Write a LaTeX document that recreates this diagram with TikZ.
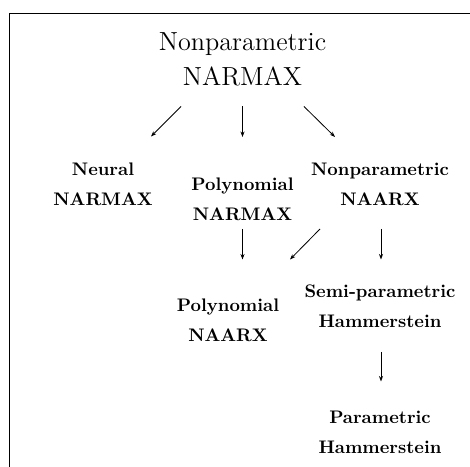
\documentclass[tikz,border=0pt]{standalone}
\usetikzlibrary{arrows.meta}
\begin{document}
\begin{tikzpicture}[x=0.55pt, y=-0.55pt,
    titlelbl/.style={inner sep=0pt, align=center, font={\fontsize{14.4}{19.3}\selectfont}},
    modellbl/.style={inner sep=0pt, align=center, font={\fontsize{10}{16.5}\bfseries\selectfont}},
    arr/.style={line width=0.45pt, -{Stealth[length=3pt,width=2.2pt]}}]
  \useasboundingbox (0,0) rectangle (470,467);
  % frame, cut off at right and bottom
  \draw[line width=0.7pt] (9.5,467) -- (9.5,13.3) -- (470,13.3);
  % models
  \node[titlelbl] (top) at (242.5,59) {Nonparametric\\NARMAX};
  \node[modellbl] (neural) at (103,184) {Neural\\NARMAX};
  \node[modellbl] (polyA) at (242.5,199) {Polynomial\\NARMAX};
  \node[modellbl] (nonpA) at (380,184.5) {Nonparametric\\NAARX};
  \node[modellbl] (polyB) at (228,320) {Polynomial\\NAARX};
  \node[modellbl] (semi) at (380,306) {Semi-parametric\\Hammerstein};
  \node[modellbl] (param) at (380,432) {Parametric\\Hammerstein};
  % arrows
  \draw[arr] ([shift={(-61.5,47.5)}]top.center) -- ([shift={(48,-47.5)}]neural.center);
  \draw[arr] ([shift={(0,47.5)}]top.center) -- ([shift={(0,-62)}]polyA.center);
  \draw[arr] ([shift={(61.5,47.5)}]top.center) -- ([shift={(-45,-47.5)}]nonpA.center);
  \draw[arr] ([shift={(0,30)}]polyA.center) -- ([shift={(14.5,-60.5)}]polyB.center);
  \draw[arr] ([shift={(-60,44.5)}]nonpA.center) -- ([shift={(62,-60.5)}]polyB.center);
  \draw[arr] ([shift={(1,44.5)}]nonpA.center) -- ([shift={(1,-46.5)}]semi.center);
  \draw[arr] ([shift={(1,46)}]semi.center) -- ([shift={(1,-50.5)}]param.center);
\end{tikzpicture}
\end{document}
